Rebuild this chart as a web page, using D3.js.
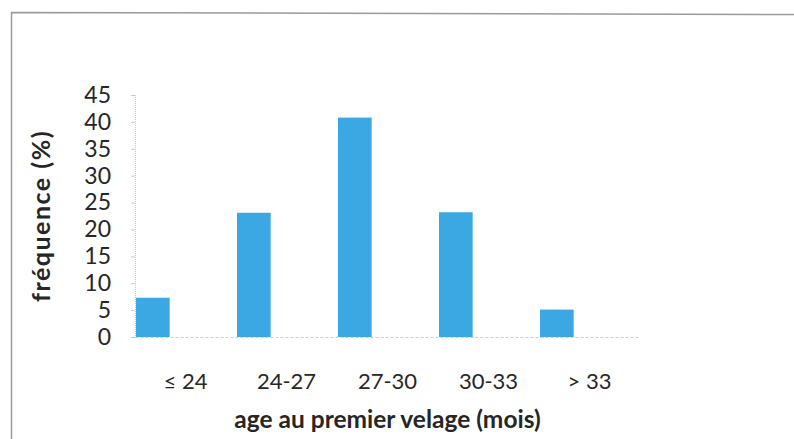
<!DOCTYPE html>
<html>
<head>
<meta charset="utf-8">
<script src="https://cdn.jsdelivr.net/npm/d3@7"></script>
<style>
  html, body { margin: 0; padding: 0; background: #fff; }
  svg { display: block; }
  text { font-family: Lato, "Open Sans", sans-serif; fill: #262626; }
</style>
</head>
<body>
<svg id="chart" width="794" height="439"></svg>
<script>
// Age at first calving classes and their frequency (%)
const categories = ["\u2264 24", "24-27", "27-30", "30-33", "> 33"];
const frequencies = [7.3, 23.1, 40.8, 23.2, 5.1];
const yTicks = [0, 5, 10, 15, 20, 25, 30, 35, 40, 45];
const xTitle = "age au premier velage (mois)";
const yTitle = "fr\u00e9quence (%)";

const svg = d3.select("#chart");
const plot = { left: 135, right: 640, top: 95, bottom: 337 };

// chart frame
svg.append("path")
  .attr("d", "M11.5,439 L11.5,12.5 L794,14.5")
  .attr("fill", "none")
  .attr("stroke", "#9a9a9a")
  .attr("stroke-width", 1.5);

const x = d3.scaleBand().domain(categories).range([plot.left, plot.right]).padding(0);
// each category slot holds three series positions; only the first carries data
const xSub = d3.scaleBand().domain(["freq", "s2", "s3"]).range([0, x.bandwidth()]).padding(0);
const y = d3.scaleLinear().domain([0, 45]).range([plot.bottom, plot.top]);

// bars
svg.append("g").selectAll("rect")
  .data(categories.map((c, i) => ({ c, v: frequencies[i] })))
  .join("rect")
  .attr("x", d => x(d.c) + xSub("freq") + 1)
  .attr("y", d => y(d.v))
  .attr("width", xSub.bandwidth())
  .attr("height", d => y(0) - y(d.v))
  .attr("fill", "#3ba8e3");

// y axis
const yAxis = svg.append("g")
  .attr("transform", `translate(${plot.left},0)`)
  .call(d3.axisLeft(y).tickValues(yTicks).tickSize(4).tickPadding(20));
yAxis.select(".domain").attr("stroke", "#c8c8c8").attr("stroke-dasharray", "1,1");
yAxis.selectAll(".tick line").attr("stroke", "#c8c8c8");
yAxis.selectAll(".tick text")
  .attr("font-size", 23)
  .attr("font-family", "Lato, sans-serif")
  .attr("fill", "#262626");

// x axis
const xAxis = svg.append("g")
  .attr("transform", `translate(0,${plot.bottom})`)
  .call(d3.axisBottom(x).tickSize(0).tickPadding(36));
xAxis.select(".domain").attr("stroke", "#cfcfcf").attr("stroke-dasharray", "3,2");
xAxis.selectAll(".tick text")
  .attr("font-size", 22)
  .attr("font-family", "Lato, sans-serif")
  .attr("fill", "#262626");

// axis titles
svg.append("text")
  .attr("x", (plot.left + plot.right) / 2)
  .attr("y", 428)
  .attr("text-anchor", "middle")
  .attr("font-size", 24.5)
  .attr("font-weight", "bold")
  .text(xTitle);

svg.append("text")
  .attr("transform", `translate(50,${(plot.top + plot.bottom) / 2}) rotate(-90)`)
  .attr("text-anchor", "middle")
  .attr("font-size", 25)
  .attr("letter-spacing", 1.5)
  .attr("font-weight", "bold")
  .text(yTitle);
</script>
</body>
</html>
